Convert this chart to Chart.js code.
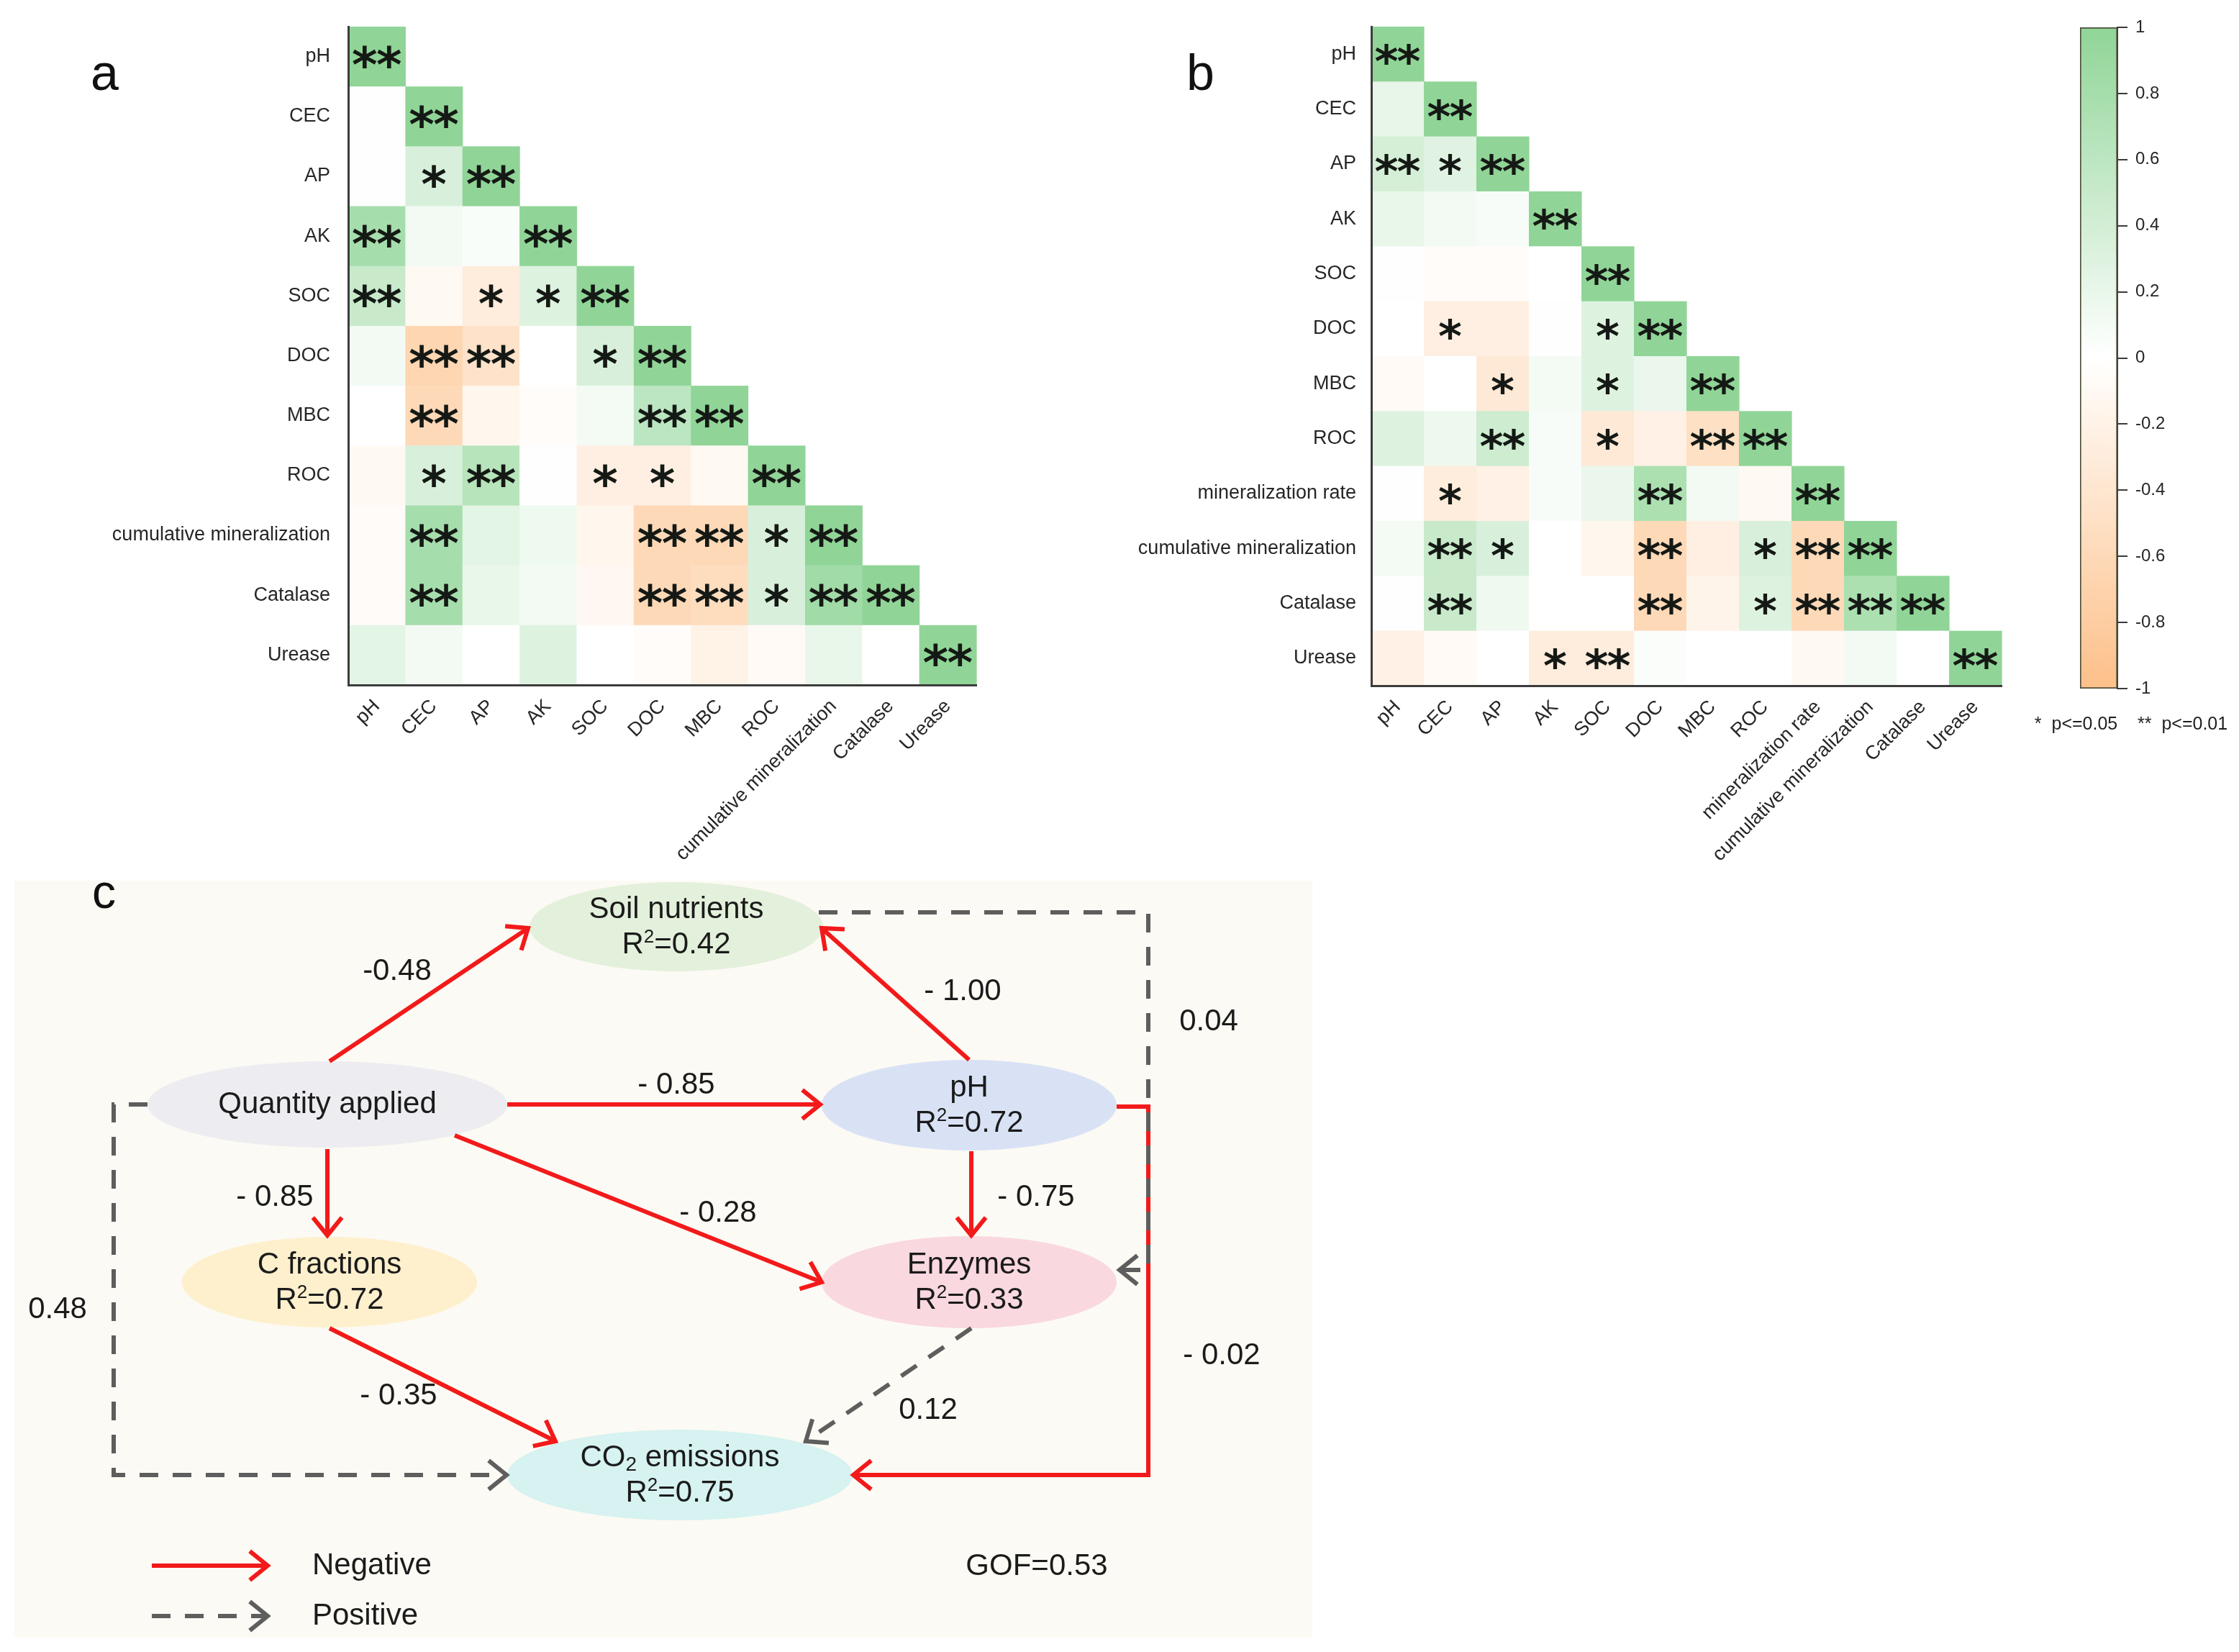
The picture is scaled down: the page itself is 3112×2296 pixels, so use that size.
<!DOCTYPE html>
<html>
<head>
<meta charset="utf-8">
<script src="https://cdn.jsdelivr.net/npm/chart.js@4.4.1/dist/chart.umd.min.js"></script>
<style>
  html, body { margin:0; padding:0; background:#fff; }
  body { width:3112px; height:2296px; position:relative; overflow:hidden; }
  canvas { position:absolute; }
</style>
</head>
<body>
<canvas id="chartA" width="1400" height="1240" style="left:0;top:0"></canvas>
<canvas id="chartB" width="1420" height="1240" style="left:1440px;top:0"></canvas>
<canvas id="chartBar" width="292" height="1040" style="left:2820px;top:0"></canvas>
<canvas id="chartC" width="1804" height="1052" style="left:20px;top:1224px"></canvas>
<script>
/*********** Soil correlation heatmaps + PLS path model ***********/
const FONT = "'Liberation Sans', Arial, Helvetica, sans-serif";
const STAR_FONT = "bold {S}px 'DejaVu Sans', sans-serif";

/* -------- panel a : correlation (lower triangle) -------- */
const varsA = ['pH','CEC','AP','AK','SOC','DOC','MBC','ROC','cumulative mineralization','Catalase','Urease'];
const corrA = [
  [1],
  [0.02, 1],
  [0.02, 0.35, 1],
  [0.8, 0.12, 0.05, 1],
  [0.5, -0.1, -0.3, 0.3, 1],
  [0.12, -0.65, -0.45, 0.0, 0.35, 1],
  [0.0, -0.6, -0.15, -0.05, 0.1, 0.6, 1],
  [-0.1, 0.35, 0.65, 0.02, -0.25, -0.25, -0.1, 1],
  [-0.06, 0.8, 0.25, 0.15, -0.15, -0.6, -0.6, 0.35, 1],
  [-0.06, 0.8, 0.2, 0.12, -0.12, -0.6, -0.55, 0.35, 0.85, 1],
  [0.25, 0.12, 0.0, 0.3, 0.0, -0.05, -0.2, -0.08, 0.2, 0.0, 1]
];
const sigA = [
  ['**'],
  ['', '**'],
  ['', '*', '**'],
  ['**', '', '', '**'],
  ['**', '', '*', '*', '**'],
  ['', '**', '**', '', '*', '**'],
  ['', '**', '', '', '', '**', '**'],
  ['', '*', '**', '', '*', '*', '', '**'],
  ['', '**', '', '', '', '**', '**', '*', '**'],
  ['', '**', '', '', '', '**', '**', '*', '**', '**'],
  ['', '', '', '', '', '', '', '', '', '', '**']
];

/* -------- panel b -------- */
const varsB = ['pH','CEC','AP','AK','SOC','DOC','MBC','ROC','mineralization rate','cumulative mineralization','Catalase','Urease'];
const corrB = [
  [1],
  [0.22, 1],
  [0.38, 0.28, 1],
  [0.2, 0.12, 0.07, 1],
  [0.02, -0.05, -0.05, 0.0, 1],
  [0.0, -0.25, -0.25, 0.02, 0.3, 1],
  [-0.08, 0.0, -0.35, 0.1, 0.3, 0.18, 1],
  [0.3, 0.16, 0.45, 0.06, -0.35, -0.22, -0.5, 1],
  [0.02, -0.3, -0.22, 0.06, 0.18, 0.75, 0.12, -0.1, 1],
  [0.1, 0.5, 0.35, 0.0, -0.15, -0.6, -0.25, 0.35, -0.6, 1],
  [0.02, 0.5, 0.14, 0.0, 0.0, -0.6, -0.18, 0.3, -0.6, 0.75, 1],
  [-0.22, -0.08, 0.0, -0.3, -0.3, 0.04, 0.0, 0.0, -0.1, 0.12, 0.0, 1]
];
const sigB = [
  ['**'],
  ['', '**'],
  ['**', '*', '**'],
  ['', '', '', '**'],
  ['', '', '', '', '**'],
  ['', '*', '', '', '*', '**'],
  ['', '', '*', '', '*', '', '**'],
  ['', '', '**', '', '*', '', '**', '**'],
  ['', '*', '', '', '', '**', '', '', '**'],
  ['', '**', '*', '', '', '**', '', '*', '**', '**'],
  ['', '**', '', '', '', '**', '', '*', '**', '**', '**'],
  ['', '', '', '*', '**', '', '', '', '', '', '', '**']
];

/* -------- colour bar -------- */
const barRange = [-1, 1];
const barStep  = 0.2;
const sigNote  = '*  p<=0.05    **  p<=0.01';

/* -------- panel c : path model -------- */
const nodeNames = ['Soil nutrients','Quantity applied','pH','C fractions','Enzymes','CO2 emissions'];
const nodeR2    = ['0.42', null, '0.72', '0.72', '0.33', '0.75'];
const pathFrom  = ['Quantity applied','pH','Quantity applied','Quantity applied','Quantity applied','pH','C fractions','pH','Soil nutrients','Enzymes','Quantity applied'];
const pathTo    = ['Soil nutrients','Soil nutrients','pH','C fractions','Enzymes','Enzymes','CO2 emissions','CO2 emissions','Enzymes','CO2 emissions','CO2 emissions'];
const pathCoef  = [-0.48, -1.00, -0.85, -0.85, -0.28, -0.75, -0.35, -0.02, 0.04, 0.12, 0.48];
const pathText  = ['-0.48','- 1.00','- 0.85','- 0.85','- 0.28','- 0.75','- 0.35','- 0.02','0.04','0.12','0.48'];
const legendText = ['Negative', 'Positive'];
const gofText    = 'GOF=0.53';

/* -------- 색 / 배치 (style + layout, not data) -------- */
const POS = [144, 213, 151], NEG = [253, 192, 137];
const RED = '#F21A1A', GRAY = '#5E5E5E';
const LAYOUT_C = {
  nodes: {
    'Soil nutrients':   {x:940,  y:1288, rx:204, ry:62, fill:'#E3F0DB'},
    'Quantity applied': {x:455,  y:1535, rx:250, ry:60, fill:'#EDEDF1'},
    'pH':               {x:1347, y:1536, rx:205, ry:63, fill:'#D9E2F5'},
    'C fractions':      {x:458,  y:1782, rx:205, ry:63, fill:'#FEF0CD'},
    'Enzymes':          {x:1347, y:1782, rx:205, ry:64, fill:'#F9D8DF'},
    'CO2 emissions':    {x:945,  y:2050, rx:240, ry:63, fill:'#D6F2F1'}
  },
  routes: [
    [[458,1475],[734,1290]],
    [[1347,1473],[1142,1290]],
    [[705,1535],[1140,1535]],
    [[455,1597],[455,1717]],
    [[632,1578],[1142,1782]],
    [[1350,1600],[1350,1717]],
    [[458,1846],[772,2003]],
    [[1552,1538],[1596,1538],[1596,2050],[1186,2050]],
    [[1138,1268],[1596,1268],[1596,1765],[1556,1765]],
    [[1350,1846],[1120,2003]],
    [[205,1535],[158,1535],[158,2050],[704,2050]]
  ],
  labels: [[552,1350],[1338,1378],[940,1508],[382,1664],[998,1686],[1440,1664],[554,1940],[1698,1884],[1680,1420],[1290,1960],[80,1820]],
  legendY: [2176, 2246], legendX: [211, 372], legendTextX: 434,
  gof: [1441, 2177]
};

const corrColor = v => {
  const c = v >= 0 ? POS : NEG, t = Math.min(1, Math.abs(v));
  return `rgb(${Math.round(255 + (c[0]-255)*t)},${Math.round(255 + (c[1]-255)*t)},${Math.round(255 + (c[2]-255)*t)})`;
};

/* -------- plugins -------- */
const panelLetter = {
  id:'panelLetter',
  afterDraw(chart, args, o){
    if(!o || !o.text) return;
    const c = chart.ctx; c.save();
    c.font = `${o.size || 70}px ${FONT}`; c.fillStyle = '#111';
    c.textAlign = 'left'; c.textBaseline = 'alphabetic';
    c.fillText(o.text, o.x, o.y); c.restore();
  }
};

const cellPlugin = {
  id:'cells',
  beforeDatasetsDraw(chart){
    const {ctx, scales:{x, y}} = chart;
    const cw = Math.abs(x.getPixelForValue(1) - x.getPixelForValue(0));
    const ch = Math.abs(y.getPixelForValue(1) - y.getPixelForValue(0));
    const ds = chart.data.datasets[0];
    chart.getDatasetMeta(0).data.forEach((pt, k) => {
      ctx.fillStyle = corrColor(ds.data[k].v);
      ctx.fillRect(pt.x - cw/2, pt.y - ch/2, cw + 0.6, ch + 0.6);
    });
  },
  afterDatasetsDraw(chart){
    const {ctx} = chart, ds = chart.data.datasets[0];
    ctx.save();
    ctx.font = STAR_FONT.replace('{S}', ds.starSize); ctx.fillStyle = '#151915';
    ctx.textAlign = 'center'; ctx.textBaseline = 'alphabetic';
    const m = ctx.measureText('*');
    const off = (m.actualBoundingBoxAscent - m.actualBoundingBoxDescent) / 2;
    chart.getDatasetMeta(0).data.forEach((pt, k) => {
      const s = ds.data[k].s;
      if(!s) return;
      const n = s.length;
      for(let q = 0; q < n; q++){
        const dx = (q - (n-1)/2) * ds.starGap;
        ctx.fillText('*', pt.x + dx, pt.y + off);
      }
    });
    ctx.restore();
  }
};

/* -------- heatmap builder -------- */
function heatmap(id, vars, corr, sig, g){
  const pts = [];
  corr.forEach((row, i) => row.forEach((v, j) => pts.push({x:vars[j], y:vars[i], v, s:sig[i][j]})));
  const axisFont = {family:FONT, size:27};
  const border = {display:true, color:'#3c3c3c', width:3, z:1};
  return new Chart(document.getElementById(id), {
    type:'scatter',
    data:{datasets:[{data:pts, pointRadius:0, pointHoverRadius:0, starSize:g.star, starGap:g.gap}]},
    options:{
      responsive:false, animation:false, devicePixelRatio:1,
      layout:{padding:{left:0, top:g.top, right:g.right, bottom:0}},
      plugins:{legend:{display:false}, tooltip:{enabled:false},
               panelLetter:{text:g.letter, x:g.lx, y:g.ly, size:70}},
      scales:{
        x:{type:'category', labels:vars, offset:true, grid:{display:false}, border,
           ticks:{font:axisFont, color:'#262626', minRotation:45, maxRotation:45, autoSkip:false, padding:6},
           afterFit:s => { s.height = g.xh; }},
        y:{type:'category', labels:vars, offset:true, grid:{display:false}, border,
           ticks:{font:axisFont, color:'#262626', autoSkip:false, padding:g.pad},
           afterFit:s => { s.width = g.yw; }}
      }
    },
    plugins:[cellPlugin, panelLetter]
  });
}

heatmap('chartA', varsA, corrA, sigA, {top:37, right:43, xh:288, yw:484, pad:17, star:68, gap:34, letter:'a', lx:126, ly:125});
heatmap('chartB', varsB, corrB, sigB, {top:37, right:78, xh:287, yw:466, pad:13, star:63, gap:31, letter:'b', lx:209, ly:125});

/* -------- colour bar -------- */
new Chart(document.getElementById('chartBar'), {
  type:'bar',
  data:{labels:[''], datasets:[{
    data:[barRange],
    barPercentage:1, categoryPercentage:1,
    borderColor:'#4f4f3c', borderWidth:2, borderSkipped:false,
    backgroundColor:(ctx) => {
      const ch = ctx.chart;
      if(!ch.chartArea) return '#fff';
      const ys = ch.scales.y;
      const gr = ch.ctx.createLinearGradient(0, ys.getPixelForValue(barRange[0]), 0, ys.getPixelForValue(barRange[1]));
      for(let k = 0; k <= 20; k++){
        const v = barRange[0] + (barRange[1]-barRange[0]) * k / 20;
        gr.addColorStop(k / 20, corrColor(v));
      }
      return gr;
    }
  }]},
  options:{
    responsive:false, animation:false, devicePixelRatio:1,
    layout:{padding:{left:71, top:38, right:0, bottom:83}},
    plugins:{legend:{display:false}, tooltip:{enabled:false}, panelLetter:false},
    scales:{
      x:{display:false, offset:true},
      y:{position:'right', min:barRange[0], max:barRange[1],
         grid:{drawOnChartArea:false, drawTicks:true, tickLength:14, color:'#3a3a3a', lineWidth:2},
         border:{display:true, color:'#3a3a3a', width:2},
         ticks:{stepSize:barStep, font:{family:FONT, size:24}, color:'#262626', padding:11,
                callback:v => { const r = Math.round(v*10)/10; return r === 0 ? '0' : String(r); }},
         afterFit:s => { s.width = 169; }}
    }
  },
  plugins:[{
    id:'note',
    afterDraw(chart){
      const c = chart.ctx; c.save();
      c.font = `25px ${FONT}`; c.fillStyle = '#1e1e1e';
      c.textAlign = 'center'; c.textBaseline = 'middle';
      c.fillText(sigNote, 142, 1007); c.restore();
    }
  }]
});

/* -------- panel c : path diagram -------- */
const pathSets = pathCoef.map((coef, k) => ({
  data: LAYOUT_C.routes[k].map(([x, y]) => ({x, y})),
  showLine:true, borderColor: coef < 0 ? RED : GRAY, borderWidth:6,
  borderDash: coef < 0 ? [] : [26, 20], pointRadius:0, tension:0,
  order: coef < 0 ? 1 : 0, arrow:true
}));
const legendSets = legendText.map((t, k) => ({
  data: LAYOUT_C.legendX.map(x => ({x, y:LAYOUT_C.legendY[k]})),
  showLine:true, borderColor: k === 0 ? RED : GRAY, borderWidth:6,
  borderDash: k === 0 ? [] : [26, 20], pointRadius:0, order:0, arrow:true
}));

function drawRuns(c, runs, cx, cy){
  let w = 0;
  runs.forEach(r => { c.font = `${r.size}px ${FONT}`; r.w = c.measureText(r.t).width; w += r.w; });
  let x = cx - w/2;
  runs.forEach(r => { c.font = `${r.size}px ${FONT}`; c.fillText(r.t, x, cy + (r.dy || 0)); x += r.w; });
}

const diagramPlugin = {
  id:'diagram',
  beforeDraw(chart){
    const c = chart.ctx; c.save();
    c.fillStyle = '#FCFAF4'; c.fillRect(0, 0, chart.width, chart.height); c.restore();
  },
  beforeDatasetsDraw(chart){
    const {ctx:c, scales:{x, y}} = chart;
    c.save();
    nodeNames.forEach(n => {
      const nd = LAYOUT_C.nodes[n];
      const px = x.getPixelForValue(nd.x), py = y.getPixelForValue(nd.y);
      const rx = Math.abs(x.getPixelForValue(nd.x + nd.rx) - px), ry = Math.abs(y.getPixelForValue(nd.y + nd.ry) - py);
      c.beginPath(); c.ellipse(px, py, rx, ry, 0, 0, Math.PI*2);
      c.fillStyle = nd.fill; c.fill();
    });
    c.restore();
  },
  afterDatasetsDraw(chart){
    const {ctx:c, scales:{x, y}} = chart;
    c.save();
    // arrow heads (open chevrons)
    chart.data.datasets.forEach((ds, i) => {
      if(!ds.arrow) return;
      const pts = chart.getDatasetMeta(i).data, n = pts.length;
      const a = pts[n-2], b = pts[n-1];
      const ang = Math.atan2(b.y - a.y, b.x - a.x), L = 32, h = 0.68;
      c.beginPath();
      c.moveTo(b.x - L*Math.cos(ang - h), b.y - L*Math.sin(ang - h));
      c.lineTo(b.x, b.y);
      c.lineTo(b.x - L*Math.cos(ang + h), b.y - L*Math.sin(ang + h));
      c.setLineDash([]); c.lineWidth = 6; c.lineJoin = 'miter'; c.lineCap = 'butt';
      c.strokeStyle = ds.borderColor; c.stroke();
    });
    // node texts
    c.fillStyle = '#1b1b1b'; c.textBaseline = 'middle'; c.textAlign = 'left';
    nodeNames.forEach((n, k) => {
      const nd = LAYOUT_C.nodes[n];
      const px = x.getPixelForValue(nd.x), py = y.getPixelForValue(nd.y);
      const first = n === 'CO2 emissions'
        ? [{t:'CO', size:42}, {t:'2', size:28, dy:10}, {t:' emissions', size:42}]
        : [{t:n, size:42}];
      if(nodeR2[k] === null){ drawRuns(c, first, px, py); return; }
      drawRuns(c, first, px, py - 24);
      drawRuns(c, [{t:'R', size:42}, {t:'2', size:26, dy:-10}, {t:'=' + nodeR2[k], size:42}], px, py + 25);
    });
    // path coefficients
    c.font = `42px ${FONT}`; c.textAlign = 'center';
    pathText.forEach((t, k) => {
      const [lx, ly] = LAYOUT_C.labels[k];
      c.fillText(t, x.getPixelForValue(lx), y.getPixelForValue(ly));
    });
    // legend + GOF
    c.textAlign = 'left';
    legendText.forEach((t, k) => c.fillText(t, x.getPixelForValue(LAYOUT_C.legendTextX), y.getPixelForValue(LAYOUT_C.legendY[k])));
    c.textAlign = 'center';
    c.fillText(gofText, x.getPixelForValue(LAYOUT_C.gof[0]), y.getPixelForValue(LAYOUT_C.gof[1]));
    c.restore();
  }
};

new Chart(document.getElementById('chartC'), {
  type:'scatter',
  data:{datasets:[...pathSets, ...legendSets]},
  options:{
    responsive:false, animation:false, devicePixelRatio:1,
    layout:{padding:0},
    plugins:{legend:{display:false}, tooltip:{enabled:false},
             panelLetter:{text:'c', x:108, y:38, size:66}},
    scales:{
      x:{type:'linear', display:false, min:20, max:1824},
      y:{type:'linear', display:false, min:1224, max:2276, reverse:true}
    }
  },
  plugins:[diagramPlugin, panelLetter]
});
</script>
</body>
</html>
